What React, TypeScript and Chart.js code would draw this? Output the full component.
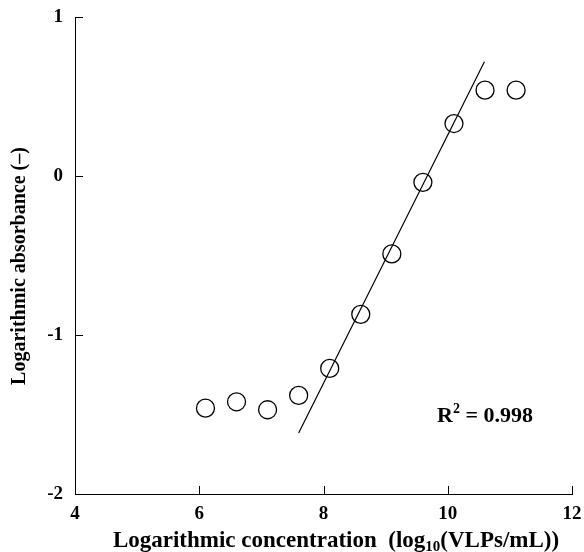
import React, { useEffect, useRef } from "react";
import { Chart, registerables } from "chart.js";

Chart.register(...registerables);

const concX = [6.1, 6.6, 7.1, 7.6, 8.1, 8.6, 9.1, 9.6, 10.1, 10.6, 11.1];
const absY = [-1.46, -1.42, -1.47, -1.38, -1.21, -0.87, -0.49, -0.04, 0.33, 0.54, 0.54];
const fitX = [7.6, 10.59];
const fitY = [-1.616, 0.719];
const xTicks = [4, 6, 8, 10, 12];
const yTicks = [-2, -1, 0, 1];
const yTitle = "Logarithmic absorbance (–)";
const xTitleA = "Logarithmic concentration  (log";
const xTitleSub = "10";
const xTitleB = "(VLPs/mL))";
const r2Text = "0.998";

const FONT = "'Liberation Serif', 'Times New Roman', serif";

const decorPlugin = {
  id: "decor",
  afterDraw(chart: any) {
    const ctx = chart.ctx as CanvasRenderingContext2D;
    const { left, bottom } = chart.chartArea;
    const xs = chart.scales.x;
    const ys = chart.scales.y;
    ctx.save();
    ctx.strokeStyle = "#000";
    ctx.lineWidth = 1;
    ctx.beginPath();
    yTicks.forEach((v) => {
      if (v === ys.min) return;
      const py = Math.round(ys.getPixelForValue(v)) + 0.5;
      ctx.moveTo(left, py);
      ctx.lineTo(left + 8, py);
    });
    xTicks.forEach((v) => {
      if (v === xs.min) return;
      const px = Math.round(xs.getPixelForValue(v)) + 0.5;
      ctx.moveTo(px, bottom);
      ctx.lineTo(px, bottom - 8);
    });
    ctx.stroke();

    ctx.fillStyle = "#000";
    // y title
    ctx.save();
    ctx.translate(20, 266);
    ctx.rotate(-Math.PI / 2);
    ctx.font = `bold 20px ${FONT}`;
    ctx.textAlign = "center";
    ctx.textBaseline = "middle";
    ctx.fillText(yTitle, 0, 0);
    ctx.restore();

    // x title with subscript
    ctx.textBaseline = "alphabetic";
    ctx.textAlign = "left";
    const big = `bold 23px ${FONT}`;
    const small = `bold 15px ${FONT}`;
    ctx.font = big;
    const wA = ctx.measureText(xTitleA).width;
    const wB = ctx.measureText(xTitleB).width;
    ctx.font = small;
    const wS = ctx.measureText(xTitleSub).width;
    const total = wA + wS + wB;
    let x0 = 336 - total / 2;
    const by = 547;
    ctx.font = big;
    ctx.fillText(xTitleA, x0, by);
    x0 += wA;
    ctx.font = small;
    ctx.fillText(xTitleSub, x0, by + 4);
    x0 += wS;
    ctx.font = big;
    ctx.fillText(xTitleB, x0, by);

    // R^2 label
    const rx = 437;
    const ry = 422;
    ctx.font = `bold 22px ${FONT}`;
    ctx.fillText("R", rx, ry);
    const wR = ctx.measureText("R").width;
    ctx.font = `bold 14px ${FONT}`;
    ctx.fillText("2", rx + wR, ry - 9);
    const w2 = ctx.measureText("2").width;
    ctx.font = `bold 22px ${FONT}`;
    ctx.fillText(" = " + r2Text, rx + wR + w2, ry);
    ctx.restore();
  },
};

export default function App() {
  const ref = useRef<HTMLCanvasElement>(null);
  useEffect(() => {
    if (!ref.current) return;
    const chart = new Chart(ref.current, {
      type: "scatter",
      data: {
        datasets: [
          {
            label: "data",
            data: concX.map((x, i) => ({ x, y: absY[i] })),
            pointStyle: "circle",
            pointRadius: 9,
            pointBorderWidth: 1.3,
            pointBorderColor: "#000",
            pointBackgroundColor: "rgba(0,0,0,0)",
            showLine: false,
          },
          {
            label: "fit",
            type: "line",
            data: fitX.map((x, i) => ({ x, y: fitY[i] })),
            borderColor: "#000",
            borderWidth: 1.2,
            pointRadius: 0,
            fill: false,
          } as any,
        ],
      },
      options: {
        responsive: false,
        animation: false,
        layout: { padding: { top: 17, right: 12, left: 0, bottom: 0 } },
        plugins: {
          legend: { display: false },
          tooltip: { enabled: false },
        },
        scales: {
          x: {
            type: "linear",
            min: 4,
            max: 12,
            afterFit: (s: any) => {
              s.height = 58;
              s.paddingLeft = 0;
              s.paddingRight = 0;
            },
            afterBuildTicks: (s: any) => {
              s.ticks = xTicks.map((v) => ({ value: v }));
            },
            grid: { display: true, drawOnChartArea: false, drawTicks: false },
            border: { display: true, color: "#000", width: 1 },
            ticks: {
              color: "#000",
              padding: 9,
              font: { family: FONT, size: 19, weight: "bold" },
              maxRotation: 0,
            },
          },
          y: {
            type: "linear",
            min: -2,
            max: 1,
            afterFit: (s: any) => {
              s.width = 75;
              s.paddingTop = 0;
              s.paddingBottom = 0;
            },
            afterBuildTicks: (s: any) => {
              s.ticks = yTicks.map((v) => ({ value: v }));
            },
            grid: { display: true, drawOnChartArea: false, drawTicks: false },
            border: { display: true, color: "#000", width: 1 },
            ticks: {
              color: "#000",
              padding: 12,
              font: { family: FONT, size: 19, weight: "bold" },
            },
          },
        },
      },
      plugins: [decorPlugin],
    });
    return () => chart.destroy();
  }, []);
  return (
    <div style={{ position: "absolute", left: 0, top: 0, width: 584, height: 552, background: "#fff" }}>
      <canvas ref={ref} width={584} height={552} style={{ display: "block" }} />
    </div>
  );
}
